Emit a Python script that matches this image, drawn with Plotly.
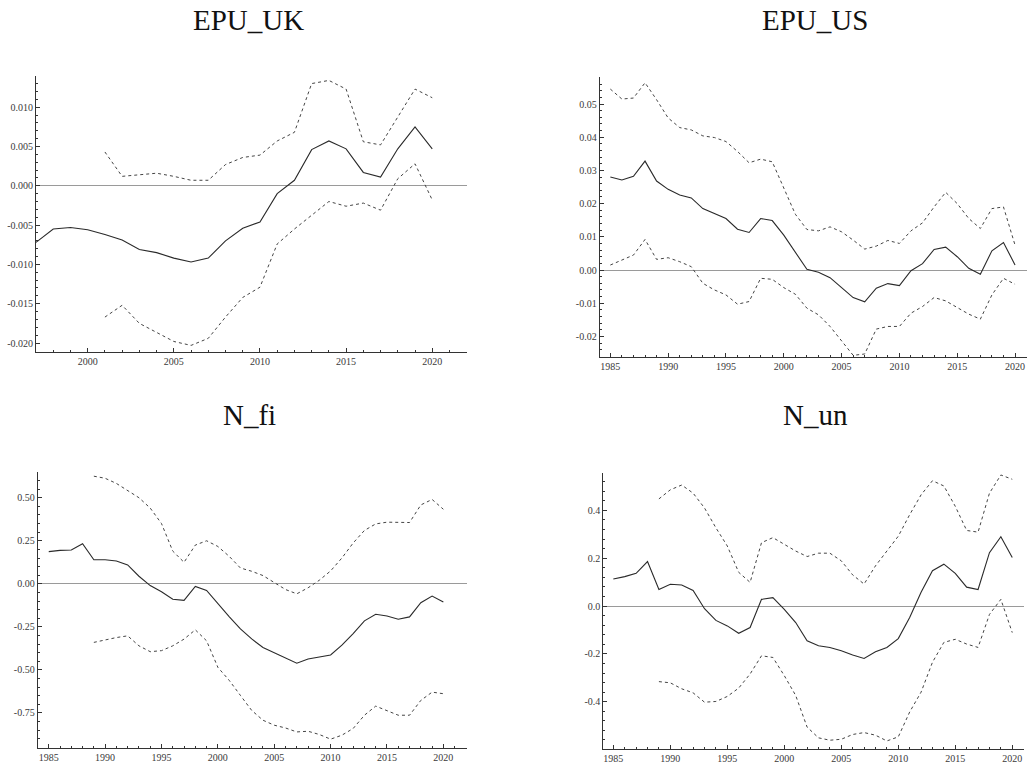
import plotly.graph_objects as go

W, H = 1028, 764

# ---------------- data ----------------
years_85 = list(range(1985, 2021))
years_89 = list(range(1989, 2021))
uk_mid_years = list(range(1997, 2021))
uk_band_years = list(range(2001, 2021))

uk_mid = [-0.0072, -0.0055, -0.0053, -0.0056, -0.0062, -0.0069, -0.0081, -0.0085, -0.0092, -0.0097,
          -0.0092, -0.0070, -0.0054, -0.0046, -0.0010, 0.0007, 0.0046, 0.0057, 0.0047, 0.0017,
          0.0011, 0.0047, 0.0075, 0.0047]
uk_up = [0.0043, 0.0012, 0.0014, 0.0016, 0.0012, 0.0007, 0.0007, 0.0027, 0.0036, 0.0039,
         0.0057, 0.0068, 0.0130, 0.0134, 0.0123, 0.0056, 0.0052, 0.0087, 0.0123, 0.0112]
uk_lo = [-0.0167, -0.0152, -0.0175, -0.0186, -0.0198, -0.0203, -0.0194, -0.0167, -0.0142, -0.0129,
         -0.0074, -0.0055, -0.0037, -0.0020, -0.0026, -0.0022, -0.0031, 0.0009, 0.0028, -0.0018]

us_mid = [0.0280, 0.0271, 0.0282, 0.0328, 0.0268, 0.0243, 0.0226, 0.0217, 0.0185, 0.0170,
          0.0155, 0.0123, 0.0113, 0.0155, 0.0149, 0.0105, 0.0055, 0.0002, -0.0007, -0.0023,
          -0.0053, -0.0083, -0.0096, -0.0055, -0.0041, -0.0047, -0.0002, 0.0019, 0.0062, 0.0069,
          0.0040, 0.0005, -0.0013, 0.0058, 0.0083, 0.0015]
us_up = [0.0545, 0.0515, 0.0518, 0.0564, 0.0513, 0.0458, 0.0429, 0.0422, 0.0404, 0.0399,
         0.0387, 0.0357, 0.0323, 0.0334, 0.0326, 0.0245, 0.0168, 0.0122, 0.0118, 0.0130,
         0.0115, 0.0090, 0.0063, 0.0072, 0.0089, 0.0080, 0.0118, 0.0142, 0.0190, 0.0234,
         0.0200, 0.0155, 0.0125, 0.0185, 0.0190, 0.0075]
us_lo = [0.0015, 0.0030, 0.0045, 0.0092, 0.0032, 0.0037, 0.0025, 0.0010, -0.0040, -0.0060,
         -0.0075, -0.0103, -0.0095, -0.0025, -0.0028, -0.0053, -0.0073, -0.0115, -0.0135, -0.0170,
         -0.0215, -0.0257, -0.0253, -0.0178, -0.0170, -0.0170, -0.0130, -0.0110, -0.0083, -0.0093,
         -0.0113, -0.0133, -0.0148, -0.0075, -0.0025, -0.0043]

fi_mid = [0.187, 0.194, 0.196, 0.233, 0.140, 0.140, 0.133, 0.110, 0.044, -0.010,
          -0.046, -0.090, -0.096, -0.015, -0.038, -0.115, -0.190, -0.262, -0.320, -0.370,
          -0.400, -0.430, -0.461, -0.437, -0.423, -0.413, -0.356, -0.289, -0.215, -0.177,
          -0.187, -0.206, -0.192, -0.110, -0.071, -0.106]
fi_up = [0.625, 0.613, 0.583, 0.544, 0.500, 0.440, 0.350, 0.190, 0.125, 0.225,
         0.250, 0.217, 0.160, 0.092, 0.073, 0.048, 0.006, -0.033, -0.058, -0.023,
         0.021, 0.075, 0.150, 0.237, 0.310, 0.348, 0.358, 0.356, 0.356, 0.458,
         0.490, 0.433]
fi_lo = [-0.340, -0.325, -0.312, -0.302, -0.360, -0.394, -0.388, -0.360, -0.321, -0.267,
         -0.331, -0.485, -0.560, -0.648, -0.735, -0.792, -0.821, -0.837, -0.860, -0.856,
         -0.875, -0.902, -0.879, -0.840, -0.763, -0.710, -0.735, -0.763, -0.763, -0.677,
         -0.629, -0.638]

un_mid = [0.113, 0.123, 0.137, 0.186, 0.069, 0.091, 0.088, 0.065, -0.011, -0.060,
          -0.083, -0.114, -0.090, 0.028, 0.035, -0.014, -0.069, -0.145, -0.166, -0.173,
          -0.187, -0.205, -0.219, -0.191, -0.173, -0.136, -0.048, 0.058, 0.148, 0.175,
          0.137, 0.079, 0.069, 0.223, 0.290, 0.203]
un_up = [0.448, 0.486, 0.506, 0.472, 0.410, 0.327, 0.251, 0.141, 0.099, 0.265,
         0.286, 0.258, 0.230, 0.207, 0.221, 0.221, 0.189, 0.130, 0.092, 0.168,
         0.230, 0.292, 0.382, 0.465, 0.524, 0.502, 0.417, 0.316, 0.309, 0.472,
         0.548, 0.530]
un_lo = [-0.316, -0.321, -0.346, -0.363, -0.402, -0.399, -0.378, -0.343, -0.284, -0.208,
         -0.215, -0.291, -0.374, -0.506, -0.551, -0.561, -0.557, -0.537, -0.529, -0.540,
         -0.564, -0.547, -0.443, -0.360, -0.235, -0.152, -0.139, -0.159, -0.173, -0.035,
         0.028, -0.111]

titles = ["EPU_UK", "EPU_US", "N_fi", "N_un"]

uk_xticks = [2000, 2005, 2010, 2015, 2020]
long_xticks = [1985, 1990, 1995, 2000, 2005, 2010, 2015, 2020]

uk_yticks = [-0.020, -0.015, -0.010, -0.005, 0.000, 0.005, 0.010]
uk_ytext = ["-0.020", "-0.015", "-0.010", "-0.005", "0.000", "0.005", "0.010"]
us_yticks = [-0.02, -0.01, 0.00, 0.01, 0.02, 0.03, 0.04, 0.05]
us_ytext = ["-0.02", "-0.01", "0.00", "0.01", "0.02", "0.03", "0.04", "0.05"]
fi_yticks = [-0.75, -0.50, -0.25, 0.00, 0.25, 0.50]
fi_ytext = ["-0.75", "-0.50", "-0.25", "0.00", "0.25", "0.50"]
un_yticks = [-0.4, -0.2, 0.0, 0.2, 0.4]
un_ytext = ["-0.4", "-0.2", "0.0", "0.2", "0.4"]

# ---------------- layout helpers ----------------
def xdom(l, r):
    return [l / W, r / W]

def ydom(top, bottom):
    return [1 - bottom / H, 1 - top / H]

panels = [
    dict(xd=xdom(36, 466.7), yd=ydom(77, 354), xr=[1997, 2022], yr=[-0.0211, 0.0139],
         xt=uk_xticks, yt=uk_yticks, ytt=uk_ytext, ymin=0.001,
         mid=(uk_mid_years, uk_mid), up=(uk_band_years, uk_up), lo=(uk_band_years, uk_lo),
         tpos=(248.7, 20)),
    dict(xd=xdom(599.7, 1027.3), yd=ydom(77.3, 359), xr=[1984.08, 2021.06], yr=[-0.0261, 0.0582],
         xt=long_xticks, yt=us_yticks, ytt=us_ytext, ymin=0.002,
         mid=(years_85, us_mid), up=(years_85, us_up), lo=(years_85, us_lo),
         tpos=(814.5, 20)),
    dict(xd=xdom(37.7, 466.7), yd=ydom(475, 752.7), xr=[1984.02, 2022.07], yr=[-0.952, 0.650],
         xt=long_xticks, yt=fi_yticks, ytt=fi_ytext, ymin=0.05,
         mid=(years_85, fi_mid), up=(years_89, fi_up), lo=(years_89, fi_lo),
         tpos=(249, 418)),
    dict(xd=xdom(603.3, 1024), yd=ydom(475.7, 754), xr=[1984.12, 2021.03], yr=[-0.598, 0.558],
         xt=long_xticks, yt=un_yticks, ytt=un_ytext, ymin=0.04,
         mid=(years_85, un_mid), up=(years_89, un_up), lo=(years_89, un_lo),
         tpos=(815, 418)),
]

fig = go.Figure()
AX = "#333333"
tickfont = dict(family="Liberation Serif, Times New Roman, serif", size=10, color="#3a3a3a")
annotations = []

for i, p in enumerate(panels):
    n = "" if i == 0 else str(i + 1)
    xa, ya = "x" + n, "y" + n
    # lines
    fig.add_trace(go.Scatter(x=p["up"][0], y=p["up"][1], xaxis=xa, yaxis=ya, mode="lines",
                             line=dict(color="#444444", width=1, dash="3px,3px"),
                             showlegend=False, hoverinfo="skip"))
    fig.add_trace(go.Scatter(x=p["lo"][0], y=p["lo"][1], xaxis=xa, yaxis=ya, mode="lines",
                             line=dict(color="#444444", width=1, dash="3px,3px"),
                             showlegend=False, hoverinfo="skip"))
    fig.add_trace(go.Scatter(x=p["mid"][0], y=p["mid"][1], xaxis=xa, yaxis=ya, mode="lines",
                             line=dict(color="#2a2a2a", width=1.1),
                             showlegend=False, hoverinfo="skip"))

    fig.layout["xaxis" + n] = dict(
        domain=p["xd"], anchor=ya, range=p["xr"], showgrid=False, zeroline=False,
        showline=True, linecolor=AX, linewidth=1, ticks="inside", ticklen=4,
        tickcolor=AX, tickwidth=1, tickmode="array", tickvals=p["xt"],
        ticktext=[str(v) for v in p["xt"]], tickfont=tickfont,
        minor=dict(ticks="inside", ticklen=2, tickcolor=AX, tickmode="linear",
                   tick0=1985, dtick=1, showgrid=False),
        fixedrange=True)
    fig.layout["yaxis" + n] = dict(
        domain=p["yd"], anchor=xa, range=p["yr"], showgrid=False, zeroline=True,
        zerolinecolor="#9a9a9a", zerolinewidth=1,
        showline=True, linecolor=AX, linewidth=1, ticks="inside", ticklen=4,
        tickcolor=AX, tickwidth=1, tickmode="array", tickvals=p["yt"],
        ticktext=p["ytt"], tickfont=tickfont,
        minor=dict(ticks="inside", ticklen=2, tickcolor=AX, tickmode="linear",
                   tick0=0, dtick=p["ymin"], showgrid=False),
        fixedrange=True)

    annotations.append(dict(text=titles[i], x=p["tpos"][0] / W, y=1 - p["tpos"][1] / H,
                            xref="paper", yref="paper", xanchor="center", yanchor="middle",
                            showarrow=False,
                            font=dict(family="Liberation Serif, Times New Roman, serif",
                                      size=29, color="#111111")))

fig.update_layout(width=W, height=H, margin=dict(l=0, r=0, t=0, b=0),
                  paper_bgcolor="white", plot_bgcolor="white",
                  annotations=annotations, showlegend=False)

fig.write_html("out.html", config={"displayModeBar": False})
